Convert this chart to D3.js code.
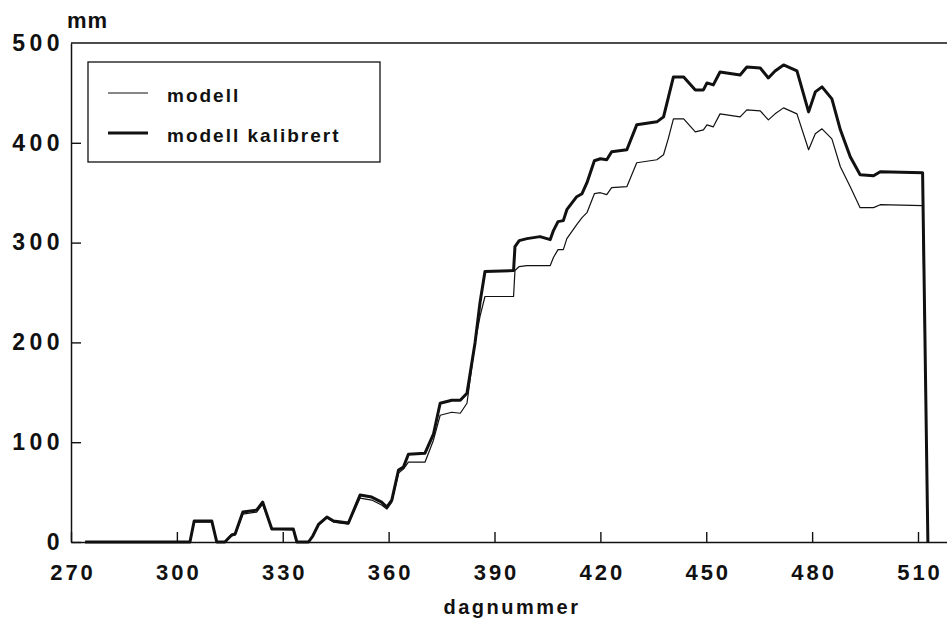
<!DOCTYPE html>
<html>
<head>
<meta charset="utf-8">
<script src="https://cdn.jsdelivr.net/npm/d3@7"></script>
<style>
  html, body { margin: 0; padding: 0; background: #fff; }
  svg { display: block; font-family: "Liberation Sans", Arial, sans-serif; }
</style>
</head>
<body>
<svg id="chart" width="947" height="624"></svg>
<script>
// ── DATA ────────────────────────────────────────────
const days = [
  274, 303.7, 304.9, 309.9, 311.3, 313.6, 315.5, 316.5, 318.7, 322.6,
  324.3, 326.9, 333.0, 334.0, 337.3, 338.5, 340.2, 342.5, 344.4, 348.6,
  351.9, 355.2, 358.0, 359.5, 360.9, 362.8, 364.2, 365.6, 370.3, 372.7,
  374.6, 377.9, 380.3, 382.2, 384.5, 385.9, 387.3, 395.4, 395.8, 397.0,
  399.2, 402.9, 405.8, 406.7, 408.0, 409.5, 410.5, 413.3, 414.8, 416.2,
  418.3, 420.0, 421.8, 423.2, 427.5, 430.3, 436.0, 437.9, 439.3, 440.7,
  443.6, 446.9, 449.2, 450.2, 452.0, 453.9, 459.6, 461.5, 465.3, 467.6,
  469.5, 471.9, 475.7, 479.0, 480.9, 482.8, 485.6, 488.0, 490.8, 493.6,
  497.4, 499.3, 511.3, 512.8
];
const modell = [
  0, 0, 20, 20, 0, 0, 6, 7, 28, 30,
  38, 13, 12, 0, 0, 6, 17, 24, 20, 18,
  44, 42, 37, 33, 40, 69, 73, 80, 80, 102,
  127, 130, 129, 139, 200, 226, 246, 246, 272, 276,
  277, 277, 277, 285, 293, 293, 304, 318, 325, 330,
  349, 350, 348, 355, 356, 380, 383, 388, 405, 424,
  424, 411, 413, 418, 416, 429, 426, 433, 432, 423,
  429, 435, 429, 393, 409, 414, 404, 376, 356, 335,
  335, 338, 337, 0
];
const kalibrert = [
  0, 0, 21, 21, 0, 0, 7, 8, 30, 32,
  40, 13, 13, 0, 0, 6, 18, 25, 21, 19,
  47, 45, 40, 35, 42, 72, 75, 88, 89, 108,
  139, 142, 142, 149, 200, 240, 271, 272, 296, 302,
  304, 306, 303, 312, 321, 322, 333, 346, 349, 360,
  382, 384, 383, 391, 393, 418, 421, 426, 446, 466,
  466, 453, 453, 460, 458, 471, 468, 476, 475, 465,
  472, 478, 472, 431, 451, 456, 444, 413, 386, 368,
  367, 371, 370, 0
];
const xTicks = [270, 300, 330, 360, 390, 420, 450, 480, 510];
const yTicks = [0, 100, 200, 300, 400, 500];
const legendLabels = ['modell', 'modell kalibrert'];

// ── LAYOUT ──────────────────────────────────────────
const svg = d3.select('#chart');
const ink = '#111';
const font = '"Liberation Sans", Arial, sans-serif';

const x = d3.scaleLinear().domain([270, 518.5]).range([71, 948]);
const y = d3.scaleLinear().domain([0, 500]).range([542, 43]);

// frame: top line
svg.append('line')
  .attr('x1', 71).attr('x2', 947).attr('y1', y(500)).attr('y2', y(500))
  .attr('stroke', ink).attr('stroke-width', 1.3);

// x axis
const xAxis = svg.append('g')
  .attr('transform', `translate(0,${y(0)})`)
  .call(d3.axisBottom(x).tickValues(xTicks).tickSizeInner(-10).tickSizeOuter(0).tickPadding(22));

// y axis
const yAxis = svg.append('g')
  .attr('transform', `translate(${x(270)},0)`)
  .call(d3.axisLeft(y).tickValues(yTicks).tickSizeInner(-10).tickSizeOuter(0).tickPadding(7));

[xAxis, yAxis].forEach(g => {
  g.select('.domain').attr('stroke', ink).attr('stroke-width', 1.5);
  g.selectAll('.tick line').attr('stroke', ink).attr('stroke-width', 1.4);
  g.selectAll('.tick text')
    .attr('fill', ink)
    .style('font-family', font)
    .style('font-weight', 'bold');
});
xAxis.selectAll('.tick text')
  .attr('dx', '1.5')
  .style('font-size', '22px')
  .style('letter-spacing', '3px');
yAxis.selectAll('.tick text')
  .style('font-size', '23px')
  .style('letter-spacing', '4.5px');
yAxis.selectAll('.tick line').filter(d => d === 500).remove();

// axis titles
svg.append('text')
  .attr('x', 67).attr('y', 28)
  .attr('fill', ink)
  .style('font-family', font).style('font-size', '22px').style('font-weight', 'bold')
  .style('letter-spacing', '1px')
  .text('mm');

svg.append('text')
  .attr('x', 512).attr('y', 614)
  .attr('text-anchor', 'middle')
  .attr('fill', ink)
  .style('font-family', font).style('font-size', '20px').style('font-weight', 'bold')
  .style('letter-spacing', '2.5px')
  .text('dagnummer');

// ── LINES ───────────────────────────────────────────
const line = vals => d3.line()
  .x((d, i) => x(days[i]))
  .y((d, i) => y(vals[i]))(vals);

svg.append('path')
  .attr('d', line(kalibrert))
  .attr('fill', 'none').attr('stroke', ink)
  .attr('stroke-width', 3).attr('stroke-linejoin', 'round');

svg.append('path')
  .attr('d', line(modell))
  .attr('fill', 'none').attr('stroke', ink)
  .attr('stroke-width', 1.2).attr('stroke-linejoin', 'round');

// ── LEGEND ──────────────────────────────────────────
const lg = svg.append('g');
lg.append('rect')
  .attr('x', 88).attr('y', 62).attr('width', 292).attr('height', 100)
  .attr('fill', '#fff').attr('stroke', ink).attr('stroke-width', 1.3);

legendLabels.forEach((lab, i) => {
  const ly = 93 + i * 40;
  lg.append('line')
    .attr('x1', 108).attr('x2', 148).attr('y1', ly).attr('y2', ly)
    .attr('stroke', ink).attr('stroke-width', i === 0 ? 1.2 : 3);
  lg.append('text')
    .attr('x', 167).attr('y', ly + 9)
    .attr('fill', ink)
    .style('font-family', font).style('font-size', '19px').style('font-weight', 'bold')
    .style('letter-spacing', '2px')
    .text(lab);
});
</script>
</body>
</html>
